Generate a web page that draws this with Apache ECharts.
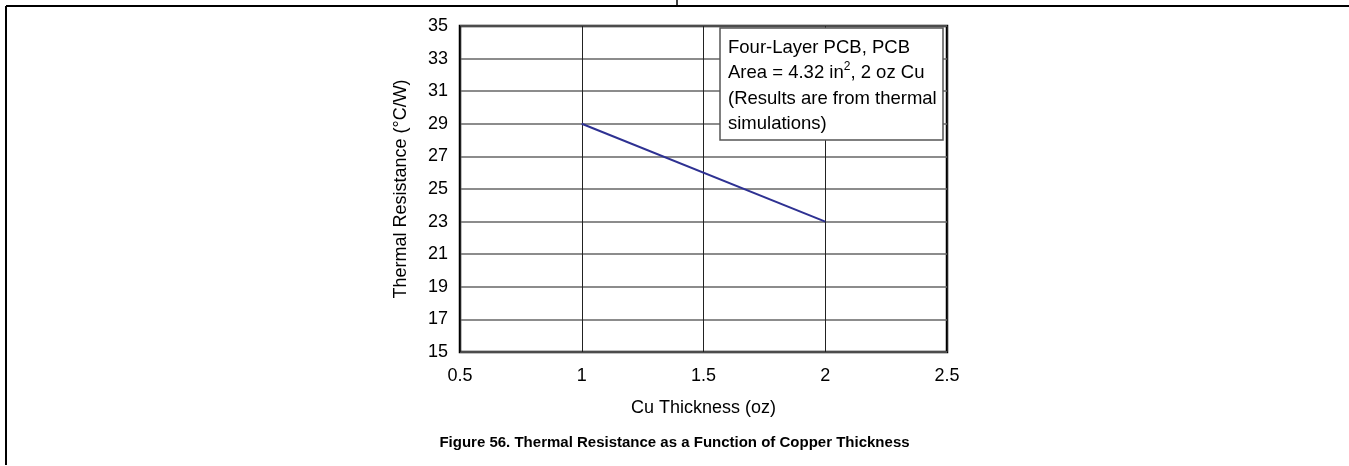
<!DOCTYPE html>
<html>
<head>
<meta charset="utf-8">
<script src="https://cdn.jsdelivr.net/npm/echarts@6/dist/echarts.min.js"></script>
<style>
  html, body { margin: 0; padding: 0; background: #fff; }
  #chart { width: 1349px; height: 466px; }
</style>
</head>
<body>
<div id="chart"></div>
<script>
// Copper thickness (oz) vs. junction-to-ambient thermal resistance (°C/W)
const cuThickness = [1, 2];
const thermalResistance = [29, 23];

const xTicks = { min: 0.5, max: 2.5, interval: 0.5 };
const yTicks = { min: 15, max: 35, interval: 2 };

const titleText = 'Figure 56. Thermal Resistance as a Function of Copper Thickness';
const xName = 'Cu Thickness (oz)';
const yName = 'Thermal Resistance (°C/W)';
const noteLines = [
  'Four-Layer PCB, PCB',
  'Area = 4.32 in{sup|2}, 2 oz Cu',
  '(Results are from thermal',
  'simulations)'
];

const FONT = '"Liberation Sans", Arial, Helvetica, sans-serif';
const chart = echarts.init(document.getElementById('chart'), null, { renderer: 'canvas' });

const gridBox = { left: 460, top: 26, width: 487, height: 326 };

chart.setOption({
  animation: false,
  backgroundColor: '#ffffff',
  title: {
    text: titleText,
    left: 'center',
    top: 430,
    textStyle: { fontFamily: FONT, fontSize: 15, fontWeight: 'bold', color: '#000' }
  },
  grid: {
    left: gridBox.left,
    top: gridBox.top,
    width: gridBox.width,
    height: gridBox.height,
    show: true,
    borderColor: '#000',
    borderWidth: 2.5,
    backgroundColor: 'transparent'
  },
  xAxis: {
    type: 'value',
    min: xTicks.min,
    max: xTicks.max,
    interval: xTicks.interval,
    name: xName,
    nameLocation: 'middle',
    nameGap: 47,
    nameTextStyle: { fontFamily: FONT, fontSize: 18, color: '#000' },
    axisLine: { show: false },
    axisTick: { show: false },
    axisLabel: {
      margin: 15,
      fontFamily: FONT, fontSize: 18, color: '#000',
      formatter: v => String(v)
    },
    splitLine: { show: true, lineStyle: { color: '#222', width: 1 } }
  },
  yAxis: {
    type: 'value',
    min: yTicks.min,
    max: yTicks.max,
    interval: yTicks.interval,
    name: yName,
    nameLocation: 'middle',
    nameGap: 50,
    nameTextStyle: { fontFamily: FONT, fontSize: 18, color: '#000' },
    axisLine: { show: false },
    axisTick: { show: false },
    axisLabel: { margin: 12, fontFamily: FONT, fontSize: 18, color: '#000' },
    splitLine: { show: true, lineStyle: { color: '#666', width: 1.5 } }
  },
  series: [{
    type: 'line',
    data: cuThickness.map((x, i) => [x, thermalResistance[i]]),
    showSymbol: false,
    lineStyle: { color: '#2e3192', width: 2 },
    z: 3
  }],
  graphic: [
    // page frame
    { type: 'line', z: 100, shape: { x1: 6, y1: 6, x2: 1349, y2: 6 }, style: { stroke: '#000', lineWidth: 2 } },
    { type: 'line', z: 100, shape: { x1: 6, y1: 6, x2: 6, y2: 465 }, style: { stroke: '#000', lineWidth: 2 } },
    { type: 'line', z: 100, shape: { x1: 677, y1: 0, x2: 677, y2: 6 }, style: { stroke: '#000', lineWidth: 1.5 } },
    // note box
    { type: 'rect', z: 100, shape: { x: 720, y: 28, width: 223, height: 112 },
      style: { fill: '#fff', stroke: '#555', lineWidth: 1.5 } },
    { type: 'text', z: 101, x: 728, y: 35,
      style: {
        text: noteLines.join('\n'),
        fontFamily: FONT, fontSize: 18.5, lineHeight: 25.5, fill: '#000',
        rich: { sup: { fontFamily: FONT, fontSize: 12, verticalAlign: 'top', padding: [0, 0, 20, 0] } }
      } }
  ]
});
</script>
</body>
</html>
